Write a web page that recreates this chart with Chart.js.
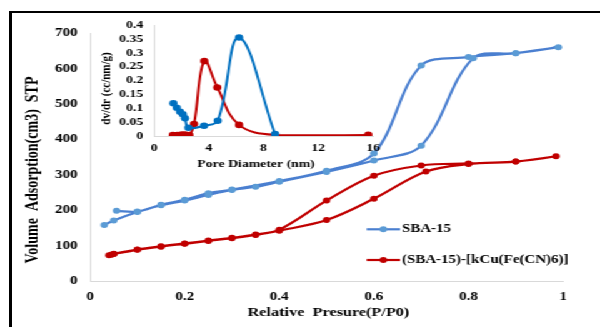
<!DOCTYPE html>
<html>
<head>
<meta charset="utf-8">
<script src="https://cdn.jsdelivr.net/npm/chart.js@4.4.1/dist/chart.umd.min.js"></script>
<style>
  html, body { margin: 0; padding: 0; background: #fff; overflow: hidden; }
  #page { position: relative; width: 600px; height: 327px; overflow: hidden; }
  #frame { position: absolute; left: 9px; top: 11px; width: 700px; height: 400px;
           border-left: 3px solid #000; border-top: 2px solid #000; }
  /* the figure is laid out at 480px and stretched to the page width */
  #stage { position: absolute; left: 0; top: 0; width: 480px; height: 327px;
           transform: scaleX(1.25); transform-origin: 0 0; }
  #stage canvas { position: absolute; left: 0; top: 0; }
  #psd { pointer-events: none; }
</style>
</head>
<body>
<div id="page">
  <div id="frame"></div>
  <div id="stage">
    <canvas id="iso" width="480" height="327"></canvas>
    <canvas id="psd" width="480" height="327"></canvas>
  </div>
</div>
<script>
// N2 isotherms, adsorption branch followed by desorption branch
const sbaP = [0.03, 0.05, 0.1, 0.15, 0.2, 0.25, 0.3, 0.35, 0.4, 0.5, 0.6, 0.7, 0.81, 0.9, 0.99,
              0.9, 0.8, 0.7, 0.6, 0.5, 0.4, 0.3, 0.25, 0.2, 0.15, 0.1, 0.056];
const sbaV = [158, 171, 195, 214, 227, 243, 257, 266, 280, 308, 340, 382, 629, 643, 660,
              643, 632, 608, 360, 311, 282, 258, 248, 229, 215, 196, 198];
const cuP = [0.04, 0.05, 0.1, 0.15, 0.2, 0.25, 0.3, 0.35, 0.4, 0.5, 0.6, 0.71, 0.8, 0.9, 0.985,
             0.9, 0.8, 0.7, 0.6, 0.5, 0.4, 0.35, 0.3, 0.25, 0.2, 0.15, 0.1, 0.05, 0.045];
const cuV = [73, 76, 88, 97, 105, 113, 121, 130, 142, 172, 232, 309, 330, 337, 352,
             337, 332, 326, 297, 227, 145, 131, 122, 114, 106, 98, 89, 77, 74];

// pore size distribution (inset)
const sbaDiam = [1.41, 1.66, 1.9, 2.1, 2.26, 2.51, 3.65, 4.65, 6.21, 8.84];
const sbaDvdr = [0.118, 0.102, 0.087, 0.078, 0.064, 0.03, 0.037, 0.055, 0.355, 0.007];
const cuDiam = [1.37, 1.7, 2.02, 2.26, 2.58, 2.92, 3.67, 4.62, 6.21, 8.84, 15.65];
const cuDvdr = [0.003, 0.003, 0.005, 0.005, 0.003, 0.043, 0.27, 0.175, 0.04, 0.004, 0.004];

const seriesNames = ['SBA-15', '(SBA-15)-[kCu(Fe(CN)6)]'];

const SERIF = '"Liberation Serif", "Times New Roman", serif';
const zip = (xs, ys) => xs.map((x, i) => ({ x, y: ys[i] }));

// axis titles and the in-plot legend
const decorations = {
  id: 'decorations',
  afterDraw(chart, args, opts) {
    const ctx = chart.ctx;
    ctx.save();
    (opts.titles || []).forEach(t => {
      ctx.save();
      ctx.translate(t.x, t.y);
      if (t.vertical) ctx.rotate(-Math.PI / 2);
      ctx.font = `bold ${t.size}px ${SERIF}`;
      ctx.fillStyle = '#000';
      ctx.textAlign = 'center';
      ctx.textBaseline = 'middle';
      ctx.fillText(t.text, 0, 0);
      ctx.restore();
    });
    const L = opts.legend;
    if (L) {
      chart.data.datasets.forEach((ds, i) => {
        const y = L.y + i * L.gap;
        ctx.strokeStyle = ds.borderColor;
        ctx.lineWidth = ds.borderWidth;
        ctx.beginPath();
        ctx.moveTo(L.x, y);
        ctx.lineTo(L.x + L.len, y);
        ctx.stroke();
        ctx.fillStyle = ds.pointBackgroundColor;
        ctx.beginPath();
        ctx.arc(L.x + L.len / 2, y, ds.pointRadius, 0, Math.PI * 2);
        ctx.fill();
        ctx.fillStyle = '#000';
        ctx.font = `bold ${L.size}px ${SERIF}`;
        ctx.textAlign = 'left';
        ctx.textBaseline = 'middle';
        ctx.fillText(ds.label, L.x + L.len + 1.5, y);
      });
    }
    ctx.restore();
  }
};

function axis(opts) {
  return Object.assign({
    type: 'linear',
    grid: { display: false, drawTicks: false },
    border: { display: true, color: '#d9d9d9', width: 1 },
  }, opts);
}

function tickOpts(size, extra) {
  return Object.assign({
    color: '#000', autoSkip: false, maxRotation: 0, minRotation: 0,
    font: { family: SERIF, size, weight: 'bold' }
  }, extra);
}

new Chart(document.getElementById('iso'), {
  type: 'scatter',
  data: {
    datasets: [
      { label: seriesNames[0], data: zip(sbaP, sbaV), showLine: true, tension: 0.35,
        borderColor: '#4A7FD0', borderWidth: 2.2, backgroundColor: '#5B9BD5',
        pointBackgroundColor: '#5B9BD5', pointBorderColor: '#5B9BD5', pointBorderWidth: 0, pointRadius: 3 },
      { label: seriesNames[1], data: zip(cuP, cuV), showLine: true, tension: 0.35,
        borderColor: '#C00000', borderWidth: 2.2, backgroundColor: '#C00000',
        pointBackgroundColor: '#C00000', pointBorderColor: '#C00000', pointBorderWidth: 0, pointRadius: 3 }
    ]
  },
  options: {
    responsive: false, animation: false, events: [],
    layout: { padding: { left: 0, top: 33, right: 29.6, bottom: 0 } },
    plugins: {
      legend: { display: false }, tooltip: { enabled: false },
      decorations: {
        titles: [
          { text: 'Volume  Adsorption(cm3)  STP', x: 26, y: 170, size: 14, vertical: true },
          { text: 'Relative  Presure(P/P0)', x: 262.7, y: 313, size: 13 }
        ],
        legend: { x: 293.3, y: 229.3, gap: 30.7, len: 26.7, size: 12 }
      }
    },
    scales: {
      x: axis({
        min: 0, max: 1,
        afterFit: s => { s.height = 46; },
        ticks: tickOpts(12, { stepSize: 0.2, padding: 8.5, callback: v => String(+v.toFixed(1)) })
      }),
      y: axis({
        min: 0, max: 700,
        afterFit: s => { s.width = 72; },
        ticks: tickOpts(12, { stepSize: 100, padding: 10 })
      })
    }
  },
  plugins: [decorations]
});

new Chart(document.getElementById('psd'), {
  type: 'scatter',
  data: {
    datasets: [
      { label: seriesNames[0], data: zip(sbaDiam, sbaDvdr), showLine: true, tension: 0.4,
        borderColor: '#0070C0', borderWidth: 2, backgroundColor: '#0070C0',
        pointBackgroundColor: '#0070C0', pointBorderColor: '#0070C0', pointBorderWidth: 0, pointRadius: 3.3 },
      { label: seriesNames[1], data: zip(cuDiam, cuDvdr), showLine: true, tension: 0.4,
        borderColor: '#C00000', borderWidth: 2, backgroundColor: '#C00000',
        pointBackgroundColor: '#C00000', pointBorderColor: '#C00000', pointBorderWidth: 0, pointRadius: 3.3 }
    ]
  },
  options: {
    responsive: false, animation: false, events: [],
    layout: { padding: { left: 0, top: 25, right: 181.6, bottom: 171 } },
    plugins: {
      legend: { display: false }, tooltip: { enabled: false },
      decorations: {
        titles: [
          { text: 'dv/dr (cc/nm/g)', x: 84.7, y: 88.5, size: 11, vertical: true },
          { text: 'Pore Diameter (nm)', x: 204.8, y: 164, size: 11 }
        ]
      }
    },
    scales: {
      x: axis({
        min: 0, max: 16,
        afterFit: s => { s.height = 20; },
        ticks: tickOpts(11, { stepSize: 4, padding: 5.4 })
      }),
      y: axis({
        min: 0, max: 0.4,
        afterFit: s => { s.width = 123.2; },
        ticks: tickOpts(11, { stepSize: 0.05, padding: 8.6, callback: v => String(+v.toFixed(2)) })
      })
    }
  },
  plugins: [decorations]
});
</script>
</body>
</html>
